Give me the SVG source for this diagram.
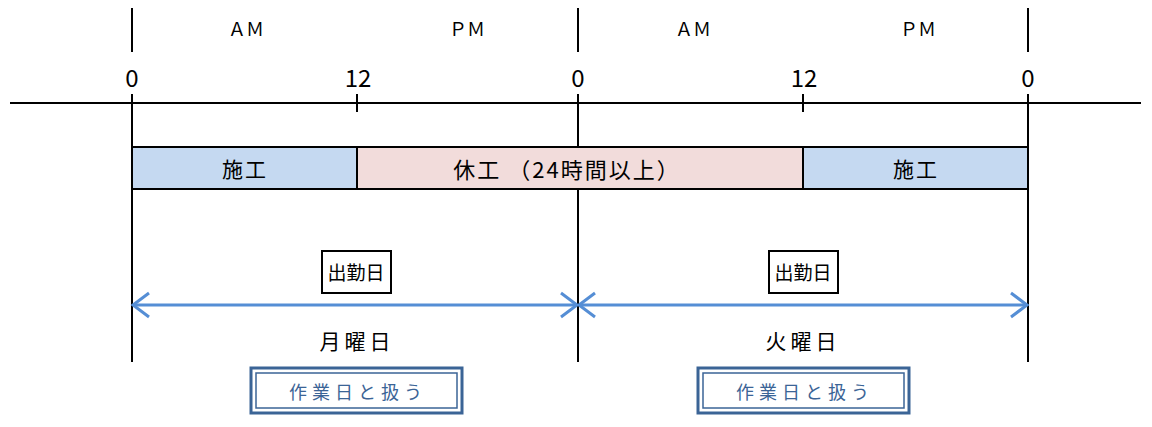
<svg xmlns="http://www.w3.org/2000/svg" width="1152" height="427" viewBox="0 0 1152 427">
<defs>
<style>
.ln{stroke:#000;stroke-width:2;fill:none}
.t{font-family:"Noto Sans CJK JP","Liberation Sans",sans-serif;fill:#000;text-anchor:middle;dominant-baseline:central}
.num{font-size:24px}
.ap{font-size:18px}
.bar{font-size:21px;letter-spacing:2px}
.day{font-size:21px;letter-spacing:4px}
.sk{font-size:19px}
.wk{font-size:18px;letter-spacing:5px;fill:#3b6496}
.arr{stroke:#558ed5;stroke-width:3;fill:none}
.dbl{fill:#fff;stroke:#3b6496}
</style>
</defs>
<rect width="1152" height="427" fill="#fff"/>
<g id="axis">
<line class="ln" x1="10" y1="103" x2="1141" y2="103"/>
<line class="ln" x1="132" y1="8" x2="132" y2="52"/>
<line class="ln" x1="578" y1="8" x2="578" y2="52"/>
<line class="ln" x1="1028" y1="8" x2="1028" y2="52"/>
<line class="ln" x1="132" y1="94" x2="132" y2="362"/>
<line class="ln" x1="578" y1="94" x2="578" y2="362"/>
<line class="ln" x1="1028" y1="94" x2="1028" y2="362"/>
<line class="ln" x1="357" y1="94" x2="357" y2="112"/>
<line class="ln" x1="803" y1="94" x2="803" y2="112"/>
<text class="t ap" x="246" y="28">ＡＭ</text>
<text class="t ap" x="467" y="28">ＰＭ</text>
<text class="t ap" x="693" y="28">ＡＭ</text>
<text class="t ap" x="918" y="28">ＰＭ</text>
<text class="t num" x="132" y="76">0</text>
<text class="t num" x="358" y="76">12</text>
<text class="t num" x="578" y="76">0</text>
<text class="t num" x="804" y="76">12</text>
<text class="t num" x="1028" y="76">0</text>
</g>
<g id="bar1">
<rect x="132" y="147" width="225" height="42" fill="#c5d9f1" stroke="#000" stroke-width="2"/>
<text class="t bar" x="245" y="168">施工</text>
</g>
<g id="bar2">
<rect x="357" y="147" width="446" height="42" fill="#f2dcdb" stroke="#000" stroke-width="2"/>
<text class="t bar" x="567" y="168" style="font-size:22px">休工 （24時間以上）</text>
</g>
<g id="bar3">
<rect x="803" y="147" width="225" height="42" fill="#c5d9f1" stroke="#000" stroke-width="2"/>
<text class="t bar" x="916" y="168">施工</text>
</g>
<g id="shukkin1">
<rect x="322" y="251" width="69" height="42" fill="#fff" stroke="#000" stroke-width="2"/>
<text class="t sk" x="356" y="271">出勤日</text>
</g>
<g id="shukkin2">
<rect x="769" y="251" width="69" height="42" fill="#fff" stroke="#000" stroke-width="2"/>
<text class="t sk" x="803" y="271">出勤日</text>
</g>
<g id="connectors">
<line class="arr" x1="133" y1="305" x2="577" y2="305"/>
<polyline class="arr" points="149,293 133,305 149,317"/>
<polyline class="arr" points="561,293 577,305 561,317"/>
<line class="arr" x1="579" y1="305" x2="1027" y2="305"/>
<polyline class="arr" points="595,293 579,305 595,317"/>
<polyline class="arr" points="1011,293 1027,305 1011,317"/>
</g>
<g id="day1"><text class="t day" x="357" y="340">月曜日</text></g>
<g id="day2"><text class="t day" x="803" y="340">火曜日</text></g>
<g id="work1">
<rect class="dbl" x="251" y="368" width="211" height="45" stroke-width="3"/>
<rect x="256" y="373" width="201" height="35" fill="none" stroke="#3b6496" stroke-width="1.5"/>
<text class="t wk" x="358" y="391">作業日と扱う</text>
</g>
<g id="work2">
<rect class="dbl" x="698" y="368" width="211" height="45" stroke-width="3"/>
<rect x="703" y="373" width="201" height="35" fill="none" stroke="#3b6496" stroke-width="1.5"/>
<text class="t wk" x="805" y="391">作業日と扱う</text>
</g>
</svg>
